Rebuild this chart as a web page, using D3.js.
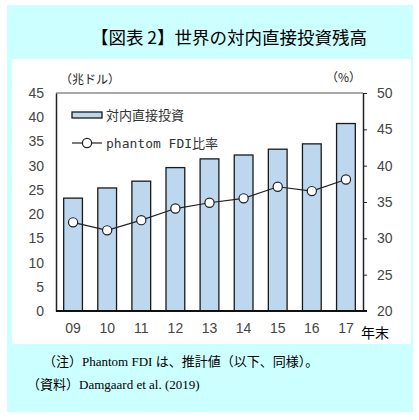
<!DOCTYPE html>
<html>
<head>
<meta charset="utf-8">
<script src="https://cdn.jsdelivr.net/npm/d3@7"></script>
<style>
  body { margin: 0; background: #fff; }
  svg text { font-family: "Liberation Sans", Arial, sans-serif; }
</style>
</head>
<body>
<div id="chart"></div>
<script>
// data
const years = ["09", "10", "11", "12", "13", "14", "15", "16", "17"];
const stock = [23.3, 25.4, 26.8, 29.6, 31.4, 32.2, 33.4, 34.5, 38.7];   // 兆ドル
const phantomShare = [32.2, 31.1, 32.5, 34.1, 34.9, 35.5, 37.1, 36.5, 38.1]; // %
const leftTicks = [0, 5, 10, 15, 20, 25, 30, 35, 40, 45];
const rightTicks = [20, 25, 30, 35, 40, 45, 50];

const W = 419, H = 420;
const plot = {left: 56, right: 363, top: 93, bottom: 311};

const svg = d3.select("#chart")
  .append("svg")
  .attr("width", W)
  .attr("height", H);

// background panels
svg.append("rect")
  .attr("x", 7).attr("y", 5)
  .attr("width", 406).attr("height", 407)
  .attr("fill", "#ccffff");

svg.append("rect")
  .attr("x", 12).attr("y", 59)
  .attr("width", 399).attr("height", 285)
  .attr("fill", "#ffffff");

// title
svg.append("text")
  .attr("x", 229).attr("y", 44)
  .attr("text-anchor", "middle")
  .style("font-family", "'Noto Sans CJK JP', sans-serif")
  .style("font-size", "17.5px")
  .style("font-weight", "400")
  .attr("fill", "#000")
  .text("【図表 2】世界の対内直接投資残高");

// scales
const x = d3.scaleBand()
  .domain(years)
  .range([plot.left, plot.right])
  .paddingInner(0.45)
  .paddingOuter(0.225);

const yL = d3.scaleLinear().domain([0, 45]).range([plot.bottom, plot.top]);
const yR = d3.scaleLinear().domain([20, 50]).range([plot.bottom, plot.top]);

// top border
svg.append("line")
  .attr("x1", plot.left).attr("x2", plot.right)
  .attr("y1", plot.top).attr("y2", plot.top)
  .attr("stroke", "#555").attr("stroke-width", 1);

// bars
svg.selectAll(".bar")
  .data(stock)
  .enter()
  .append("rect")
  .attr("class", "bar")
  .attr("x", (d, i) => x(years[i]))
  .attr("y", d => yL(d))
  .attr("width", x.bandwidth())
  .attr("height", d => yL(0) - yL(d))
  .attr("fill", "#bdd7ee")
  .attr("stroke", "#1a1a1a")
  .attr("stroke-width", 1.3);

// left axis
const leftAxis = d3.axisLeft(yL)
  .tickValues(leftTicks)
  .tickSize(0)
  .tickPadding(12)
  .tickSizeOuter(0);

const gL = svg.append("g")
  .attr("transform", `translate(${plot.left},0)`)
  .call(leftAxis);
gL.select(".domain").attr("stroke", "#222").attr("stroke-width", 1.5);
gL.selectAll("text")
  .style("font-size", "14px")
  .attr("fill", "#454545");

// right axis
const rightAxis = d3.axisRight(yR)
  .tickValues(rightTicks)
  .tickSize(4)
  .tickPadding(10)
  .tickSizeOuter(0);

const gR = svg.append("g")
  .attr("transform", `translate(${plot.right},0)`)
  .call(rightAxis);
gR.select(".domain").attr("stroke", "#222").attr("stroke-width", 1.5);
gR.selectAll("line").attr("stroke", "#222");
gR.selectAll("text")
  .style("font-size", "14px")
  .attr("fill", "#454545");

// bottom axis
const bottomAxis = d3.axisBottom(x)
  .tickSize(0)
  .tickPadding(12)
  .tickSizeOuter(0);

const gB = svg.append("g")
  .attr("transform", `translate(0,${plot.bottom})`)
  .call(bottomAxis);
gB.select(".domain")
  .attr("d", `M${plot.left},0H${plot.right + 4}`)
  .attr("stroke", "#111").attr("stroke-width", 2);
gB.selectAll("text")
  .style("font-size", "14px")
  .attr("fill", "#454545");

// line series
const line = d3.line()
  .x((d, i) => x(years[i]) + x.bandwidth() / 2)
  .y(d => yR(d));

svg.append("path")
  .datum(phantomShare)
  .attr("d", line)
  .attr("fill", "none")
  .attr("stroke", "#222")
  .attr("stroke-width", 1.2);

svg.selectAll(".dot")
  .data(phantomShare)
  .enter()
  .append("circle")
  .attr("class", "dot")
  .attr("cx", (d, i) => x(years[i]) + x.bandwidth() / 2)
  .attr("cy", d => yR(d))
  .attr("r", 4.6)
  .attr("fill", "#fff")
  .attr("stroke", "#222")
  .attr("stroke-width", 1.2);

// unit labels
svg.append("text")
  .attr("x", 60).attr("y", 84)
  .style("font-family", "'Noto Sans CJK JP', sans-serif")
  .style("font-size", "12px")
  .attr("fill", "#222")
  .text("（兆ドル）");

svg.append("text")
  .attr("x", 326).attr("y", 82)
  .style("font-family", "'Noto Sans CJK JP', sans-serif")
  .style("font-size", "12px")
  .attr("fill", "#222")
  .text("（%）");

svg.append("text")
  .attr("x", 361).attr("y", 338)
  .style("font-family", "'Noto Sans CJK JP', sans-serif")
  .style("font-size", "14px")
  .attr("fill", "#000")
  .text("年末");

// legend
svg.append("rect")
  .attr("x", 72).attr("y", 112)
  .attr("width", 30).attr("height", 6)
  .attr("fill", "#bdd7ee")
  .attr("stroke", "#1a1a1a")
  .attr("stroke-width", 1.3);

svg.append("text")
  .attr("x", 106).attr("y", 120)
  .style("font-family", "'Noto Sans CJK JP', sans-serif")
  .style("font-size", "13px")
  .attr("fill", "#333")
  .text("対内直接投資");

svg.append("line")
  .attr("x1", 72).attr("x2", 102)
  .attr("y1", 143).attr("y2", 143)
  .attr("stroke", "#222").attr("stroke-width", 1.2);

svg.append("circle")
  .attr("cx", 87).attr("cy", 143).attr("r", 4.6)
  .attr("fill", "#fff")
  .attr("stroke", "#222").attr("stroke-width", 1.2);

svg.append("text")
  .attr("x", 106).attr("y", 148)
  .style("font-family", "'DejaVu Sans Mono', 'Noto Sans CJK JP', monospace")
  .style("font-size", "13px")
  .attr("fill", "#333")
  .text("phantom FDI比率");

// notes
svg.append("text")
  .attr("x", 43).attr("y", 366)
  .style("font-family", "'Liberation Serif', 'Noto Sans CJK JP', serif")
  .style("font-size", "13px")
  .attr("fill", "#000")
  .text("（注）Phantom FDI は、推計値（以下、同様）。");

svg.append("text")
  .attr("x", 27).attr("y", 389)
  .style("font-family", "'Liberation Serif', 'Noto Sans CJK JP', serif")
  .style("font-size", "13px")
  .attr("fill", "#000")
  .text("（資料）Damgaard et al. (2019)");
</script>
</body>
</html>
